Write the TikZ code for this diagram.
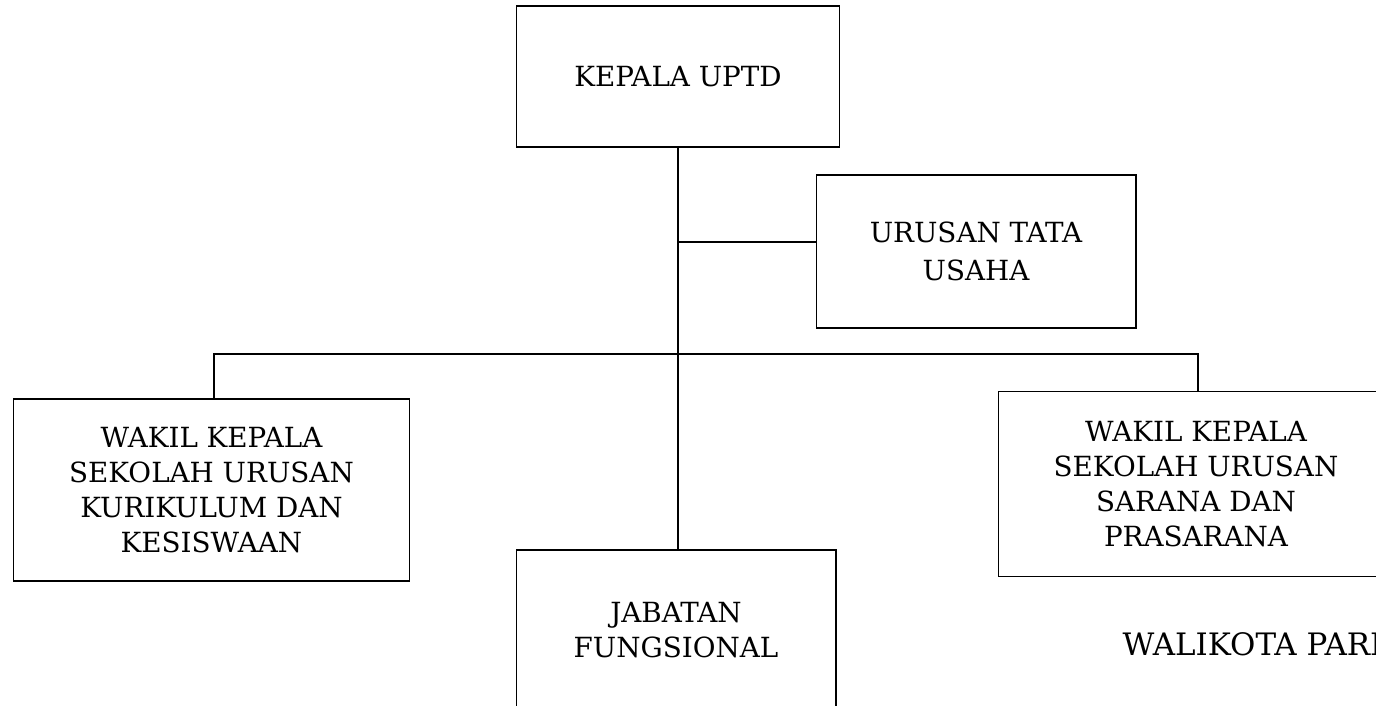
\documentclass[tikz,border=0pt]{standalone}
\usepackage{fontspec}
\setmainfont{DejaVu Serif}
\usetikzlibrary{positioning}
\tikzset{
  jbox/.style={draw, rectangle, align=center, inner sep=0pt,
    font=\fontsize{15.8}{19.8}\selectfont},
  jtext/.style={inner sep=0pt, font=\fontsize{17.6}{21}\selectfont},
}
\begin{document}
\begin{tikzpicture}[x=0.02cm,y=-0.02cm,line width=0.6pt]
  \useasboundingbox (0,0) rectangle (1376,706);
  % boxes
  \node[jbox, minimum width=6.46cm, minimum height=2.82cm] (kepala) at (678,76.5) {KEPALA UPTD};
  \node[jbox, minimum width=6.40cm, minimum height=3.06cm] (tatausaha) at (976,251.5) {URUSAN TATA\\[2pt]USAHA};
  \node[jbox, minimum width=7.94cm, minimum height=3.64cm] (wakakur) at (211.5,490) {WAKIL KEPALA\\SEKOLAH URUSAN\\KURIKULUM DAN\\KESISWAAN};
  \node[jbox, minimum width=7.92cm, minimum height=3.70cm] (wakasar) at (1196,484) {WAKIL KEPALA\\SEKOLAH URUSAN\\SARANA DAN\\PRASARANA};
  \node[jbox, minimum width=6.40cm, minimum height=3.20cm] (jabatan) at (676,630) {JABATAN\\FUNGSIONAL};
  \node[jtext, anchor=base west] (walikota) at (1122,655) {WALIKOTA PARI};
  % connectors
  \coordinate (tap) at (678,242);
  \coordinate (barL) at (214,354);
  \coordinate (barR) at (1198,354);
  \draw (kepala.south) -- (kepala.south |- jabatan.north);
  \draw (tap) -- (tap -| tatausaha.west);
  \draw (barL |- wakakur.north) -- (barL) -- (barR) -- (barR |- wakasar.north);
\end{tikzpicture}
\end{document}
